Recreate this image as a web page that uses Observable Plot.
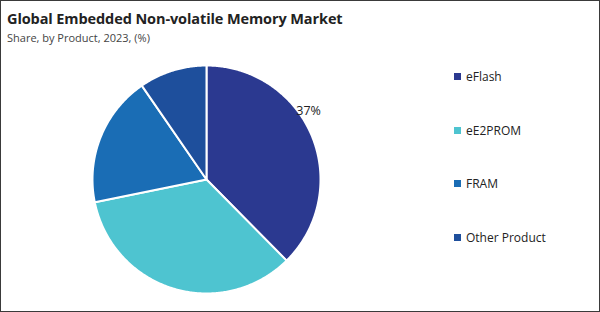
<!DOCTYPE html>
<html>
<head>
<meta charset="utf-8">
<script src="https://cdn.jsdelivr.net/npm/d3@7"></script>
<script src="https://cdn.jsdelivr.net/npm/@observablehq/plot@0.6"></script>
<style>
  html, body { margin: 0; padding: 0; background: #fff; }
  #frame { position: relative; width: 598px; height: 310px; border: 1px solid #3a3a3a; background: #fff; font-family: "Open Sans", "Noto Sans", sans-serif; overflow: hidden; }
  #title { position: absolute; left: 6px; top: 8px; font-size: 14.5px; font-weight: 700; color: #222; letter-spacing: -0.1px; }
  #subtitle { position: absolute; left: 6px; top: 29px; font-size: 11px; color: #444; }
  #chart { position: absolute; left: 84px; top: 57px; }
  #legend { position: absolute; left: 453px; top: 67px; }
  .item { position: absolute; left: 0; white-space: nowrap; font-size: 12px; color: #222; display: flex; align-items: center; }
  .sw { width: 7px; height: 7px; margin-right: 5px; }
</style>
</head>
<body>
<div id="frame">
  <div id="title"></div>
  <div id="subtitle"></div>
  <div id="chart"></div>
  <div id="legend"></div>
</div>
<script>
const title = "Global Embedded Non-volatile Memory Market";
const subtitle = "Share, by Product, 2023, (%)";
const categories = ["eFlash", "eE2PROM", "FRAM", "Other Product"];
const shares = [37.6, 34.2, 18.6, 9.6];
const colors = ["#2b3990", "#4ec4d0", "#1a6db5", "#1e4f9c"];
const labelText = ["37%", null, null, null];

document.getElementById("title").textContent = title;
document.getElementById("subtitle").textContent = subtitle;

const data = categories.map((c, i) => ({category: c, value: shares[i], label: labelText[i]}));
const arcs = d3.pie().sort(null).value(d => d.value)(data);

// build slice polygons in unit coordinates (angle 0 at top, clockwise)
const pts = [];
arcs.forEach(a => {
  const c = a.data.category;
  pts.push({category: c, x: 0, y: 0});
  const n = Math.max(2, Math.ceil((a.endAngle - a.startAngle) / 0.01));
  for (let k = 0; k <= n; k++) {
    const t = a.startAngle + (a.endAngle - a.startAngle) * k / n;
    pts.push({category: c, x: Math.sin(t), y: Math.cos(t)});
  }
  pts.push({category: c, x: 0, y: 0});
});

const labels = arcs.filter(a => a.data.label).map(a => {
  const t = a.startAngle + (a.endAngle - a.startAngle) * 0.39;
  return {x: Math.sin(t) * 1.0, y: Math.cos(t) * 1.0, text: a.data.label};
});

const size = 242, R = 114;
const dom = (size / 2) / R;
const plot = Plot.plot({
  width: size, height: size,
  margin: 0,
  x: {domain: [-dom, dom], axis: null},
  y: {domain: [-dom, dom], axis: null},
  color: {domain: categories, range: colors},
  style: {background: "transparent", overflow: "visible"},
  marks: [
    Plot.line(pts, {x: "x", y: "y", z: "category", fill: "category", stroke: "#fff", strokeWidth: 2, strokeLinejoin: "round", curve: "linear"}),
    Plot.text(labels, {x: "x", y: "y", text: "text", textAnchor: "start", dx: -1, fontSize: 12.5, fill: "#222", fontFamily: "Open Sans, sans-serif"})
  ]
});
document.getElementById("chart").appendChild(plot);

const legend = document.getElementById("legend");
categories.forEach((c, i) => {
  const el = document.createElement("div");
  el.className = "item";
  el.style.top = (i * 53.7) + "px";
  const sw = document.createElement("span");
  sw.className = "sw";
  sw.style.background = colors[i];
  const tx = document.createElement("span");
  tx.textContent = c;
  el.appendChild(sw); el.appendChild(tx);
  legend.appendChild(el);
});
</script>
</body>
</html>
